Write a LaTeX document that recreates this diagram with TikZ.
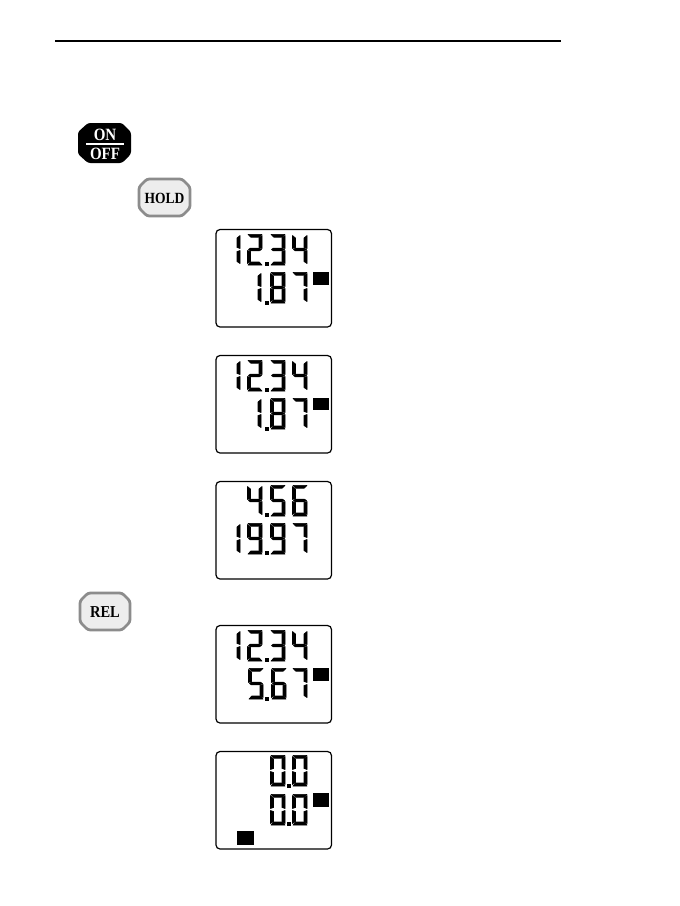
\documentclass[tikz,border=0pt]{standalone}
\usepackage{fontspec}
\setmainfont{Liberation Serif}
\tikzset{lcdseg/.style={fill=black,draw=black,line width=.6pt,line join=round}}
\newcommand\lcdsega{\path[lcdseg] (1,0.3)--(15,0.3)--(12.2,3.2)--(3.8,3.2)--cycle;}
\newcommand\lcdsegb{\path[lcdseg] (15,1.5)--(15,14.5)--(12,13.5)--(12,4)--cycle;}
\newcommand\lcdsegc{\path[lcdseg] (15,16.5)--(15,29.5)--(12,27.5)--(12,17.5)--cycle;}
\newcommand\lcdsegd{\path[lcdseg] (1,31)--(15,31)--(12.2,28)--(3.8,28)--cycle;}
\newcommand\lcdsege{\path[lcdseg] (0.5,16.5)--(0.5,29.5)--(3.5,27.5)--(3.5,17.5)--cycle;}
\newcommand\lcdsegf{\path[lcdseg] (0.5,1.5)--(0.5,14.5)--(3.5,13.5)--(3.5,4)--cycle;}
\newcommand\lcdsegg{\path[lcdseg] (1.5,15.5)--(3.2,14.2)--(12.4,14.2)--(14.5,15.5)--(12.4,16.8)--(3.2,16.8)--cycle;}
\newcommand\lcddigit[3]{\begin{scope}[shift={(#1,#2)}]\foreach\s in {#3}{\csname lcdseg\s\endcsname}\end{scope}}
\newcommand\lcdone[2]{\begin{scope}[shift={(#1-12,#2)}]\lcdsegb\lcdsegc\end{scope}}
\newcommand\lcddot[2]{\fill (#1,#2) rectangle ++(4.6,4);}
\newcommand\lcdTwelve[1]{%
  \lcdone{237}{#1}\lcddigit{247}{#1}{a,b,g,e,d}\lcddot{264.5}{#1+28}%
  \lcddigit{270}{#1}{a,b,g,c,d}\lcddigit{292}{#1}{f,g,b,c}}
\tikzset{
  lcdbox/.style={draw=black,line width=1.2pt,rounded corners=4pt},
  mark box/.style={fill=black},
  keyface/.style={draw=black!45,line width=2.8pt,fill=black!7,rounded corners=2.5pt},
  keyblack/.style={fill=black,rounded corners=2.5pt},
  keytext/.style={inner sep=0pt,font=\bfseries}
}
\newcommand\keylabel[2]{\fontsize{#1}{#1}\selectfont\scalebox{1}[1.15]{#2}}
\begin{document}
\begin{tikzpicture}[x=1pt,y=-1pt]
\useasboundingbox (0,0) rectangle (680,906);
\fill[white] (0,0) rectangle (680,906);
% top rule
\draw[line width=2pt] (55,40.5) -- (561,40.5);
% ON/OFF key
\fill[keyblack] (88,123)--(122,123)--(131,132)--(131,154)--(122,163)--(88,163)--(78,154)--(78,132)--cycle;
\node[keytext,text=white] (on) at (105,134.5) {\keylabel{15}{ON}};
\node[keytext,text=white] (off) at (105,154) {\keylabel{15}{OFF}};
\fill[white] (86,143.2) rectangle (123.5,144.8);
% HOLD key
\draw[keyface] (147,179)--(182,179)--(190,187)--(190,208)--(182,216)--(147,216)--(139,208)--(139,187)--cycle;
\node[keytext] (hold) at (164.5,198) {\keylabel{13.5}{HOLD}};
% REL key
\draw[keyface] (88,593)--(122,593)--(130,601)--(130,622)--(122,630)--(88,630)--(80,622)--(80,601)--cycle;
\node[keytext] (rel) at (105,612.5) {\keylabel{14.5}{REL}};
% display 1
\draw[lcdbox] (216,229.5) rectangle (331.5,327);
\lcdTwelve{234}
\lcdone{258}{272}\lcddot{264.5}{300.5}\lcddigit{270}{272}{a,b,c,d,e,f,g}\lcddigit{292}{272}{a,b,c}
\fill[mark box] (313,272) rectangle (329,285);
% display 2
\draw[lcdbox] (216,355.5) rectangle (331.5,453);
\lcdTwelve{360}
\lcdone{258}{398}\lcddot{264.5}{426.5}\lcddigit{270}{398}{a,b,c,d,e,f,g}\lcddigit{292}{398}{a,b,c}
\fill[mark box] (313,398) rectangle (329,410);
% display 3
\draw[lcdbox] (216,481.5) rectangle (331.5,579);
\lcddigit{247}{485}{f,g,b,c}\lcddot{264.5}{513}\lcddigit{270}{485}{a,f,g,c,d}\lcddigit{292}{485}{a,f,g,e,c,d}
\lcdone{237}{523}\lcddigit{247}{523}{a,b,c,d,f,g}\lcddot{264.5}{551}\lcddigit{270}{523}{a,b,c,d,f,g}\lcddigit{292}{523}{a,b,c}
% display 4
\draw[lcdbox] (216,625.5) rectangle (331.5,723);
\lcdTwelve{630}
\lcddigit{248}{668}{a,f,g,c,d}\lcddot{264.5}{696.5}\lcddigit{271}{668}{a,f,g,e,c,d}\lcddigit{292}{668}{a,b,c}
\fill[mark box] (313,668) rectangle (329,681);
% display 5
\draw[lcdbox] (216,751.5) rectangle (331.5,849);
\lcddigit{270}{755}{a,b,c,d,e,f}\lcddot{286.5}{784}\lcddigit{292}{755}{a,b,c,d,e,f}
\lcddigit{270}{794}{a,b,c,d,e,f}\lcddot{286.5}{822}\lcddigit{292}{794}{a,b,c,d,e,f}
\fill[mark box] (313,793) rectangle (329,807);
\fill[mark box] (237,831) rectangle (254,845);
\end{tikzpicture}
\end{document}
